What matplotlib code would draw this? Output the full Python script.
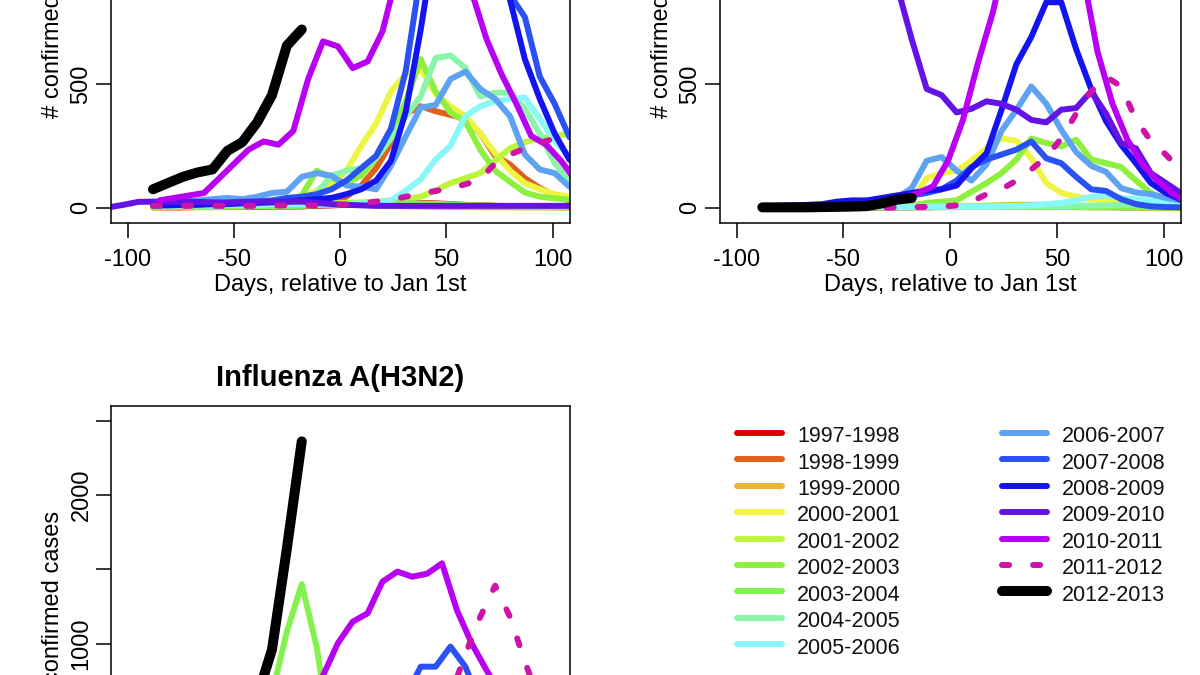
import numpy as np
import matplotlib
matplotlib.use("Agg")
import matplotlib.pyplot as plt

plt.rcParams['font.family'] = ['Liberation Sans', 'DejaVu Sans']
plt.rcParams['axes.unicode_minus'] = False

# ---------------- data ----------------
SEASONS = ["1997-1998", "1998-1999", "1999-2000", "2000-2001", "2001-2002",
           "2002-2003", "2003-2004", "2004-2005", "2005-2006", "2006-2007",
           "2007-2008", "2008-2009", "2009-2010", "2010-2011", "2011-2012",
           "2012-2013"]
COLORS = ["#DD0000", "#E0601E", "#E8B534", "#EDF542", "#BCF53C", "#8EF03E",
          "#84F24E", "#8AF5A8", "#88F8F8", "#5EA2F2", "#2A52F2", "#1414F0",
          "#6412E6", "#B800F2", "#CC14A8", "#000000"]
# weekly grid, days relative to Jan 1st
DAYS = [-116, -109, -102, -95, -88, -81, -74, -67, -60, -53, -46, -39, -32,
        -25, -18, -11, -4, 3, 10, 17, 24, 31, 38, 45, 52, 59, 66, 73, 80, 87,
        94, 101, 108]
# day offset of each season's weekly grid
SHIFT = [0, 0, 0, 0, 0, 0, 0, 0, 0, 0, 0, 0, 0, 3, 0, 0]
NA4 = [np.nan] * 4

# panel A (top left)
A_1997 = NA4 + [2,2,2,3,3,3,4,4,5,5,6,8,10,12,15,18,20,22,20,18,15,12,10,8,6,5,4,3,2]
A_1998 = NA4 + [3,3,3,4,4,5,5,6,6,8,10,15,25,45,90,160,260,380,410,390,375,360,300,210,175,120,80,50,30]
A_1999 = NA4 + [2,2,3,3,4,5,6,8,10,12,14,15,15,14,12,10,8,6,5,4,3,3,2,2,2,1,1,1,1]
A_2000 = NA4 + [8,8,9,10,10,12,14,16,20,25,40,70,100,150,250,340,470,540,560,460,410,370,300,220,150,100,75,55,45]
A_2001 = NA4 + [5,5,5,5,6,6,7,8,8,10,12,15,18,20,22,25,30,35,45,70,100,120,140,190,240,265,280,290,300]
A_2002 = NA4 + [5,5,5,5,6,8,10,12,15,20,50,150,120,100,130,200,300,430,600,470,385,348,235,150,105,62,45,38,33]
A_2003 = NA4 + [3,3,3,4,4,5,5,6,6,7,8,10,12,14,16,18,20,20,18,16,14,12,10,8,7,6,5,4,3]
A_2004 = NA4 + [10,10,10,12,12,15,15,18,20,25,30,60,130,150,160,200,280,370,450,605,615,565,450,465,465,400,300,180,110]
A_2005 = NA4 + [10,10,10,10,10,12,12,12,14,15,15,15,15,15,18,20,30,70,115,195,250,370,410,430,440,445,360,270,208]
A_2006 = NA4 + [20,20,25,30,35,40,35,45,60,65,125,140,130,90,85,75,170,290,405,415,520,550,480,440,370,215,155,140,85]
A_2007 = NA4 + [15,15,18,20,20,22,25,25,30,40,45,55,75,110,160,210,320,555,950,1200,1300,1250,1100,960,860,770,530,420,285]
A_2008 = NA4 + [10,10,12,12,15,15,18,20,22,25,30,35,40,55,75,110,190,390,720,1100,1400,1500,1300,1000,840,600,440,300,194]
A_2009 = [0, 2, 12, 24] + [25,25,25,24,22,20,22,25,25,25,25,20,15,12,10,8,8,8,8,8,8,8,8,8,8,8,8,8,8]
A_2010 = NA4 + [30,40,50,60,118,177,235,268,255,310,520,672,652,564,591,712,950,1250,1400,1400,1250,870,680,540,420,290,255,190,110]
A_2011 = NA4 + [8,8,8,8,8,8,8,8,9,10,10,10,12,14,18,25,33,45,58,68,80,95,115,180,215,240,262,280,300]
A_2012 = NA4 + [75,100,125,143,155,230,265,345,455,655,720]

# panel B (top right)
B_1997 = NA4 + [1,1,1,1,1,1,1,1,1,2,2,2,3,3,4,5,5,5,5,5,4,4,3,3,2,2,2,1,1]
B_1998 = NA4 + [1,1,1,1,1,1,1,1,2,2,3,3,4,5,6,8,10,12,12,12,10,8,6,5,4,3,2,2,1]
B_1999 = NA4 + [1,1,1,1,1,1,2,2,2,3,3,4,4,5,5,5,5,5,4,4,3,3,2,2,2,1,1,1,1]
B_2000 = NA4 + [5,5,5,5,5,5,5,5,5,15,30,120,140,150,190,240,280,270,200,100,60,45,35,30,20,15,10,8,5]
B_2001 = NA4 + [2,2,2,2,3,3,3,4,4,5,5,6,6,7,8,9,10,10,10,9,8,7,6,5,4,3,3,2,2]
B_2002 = NA4 + [5,5,5,5,5,5,5,6,6,8,10,20,25,30,65,100,140,195,280,262,248,275,195,180,165,110,60,35,20]
B_2003 = NA4 + [1,1,1,1,2,2,2,3,3,3,4,4,5,5,5,5,5,5,4,4,4,3,3,3,2,2,2,1,1]
B_2004 = NA4 + [1,1,1,1,1,1,1,2,2,2,2,3,3,3,4,4,5,5,6,6,7,8,9,10,12,14,15,15,14]
B_2005 = NA4 + [3,3,3,3,3,3,3,3,4,4,5,5,5,5,5,5,6,8,10,15,20,30,45,50,40,35,30,25,20]
B_2006 = NA4 + [5,5,6,6,8,8,10,12,15,40,80,190,205,150,110,175,310,395,490,420,315,225,170,145,80,62,55,40,30]
B_2007 = NA4 + [5,5,6,8,10,12,15,20,25,35,50,60,75,110,165,195,215,235,268,200,180,125,75,68,35,15,6,3,2]
B_2008 = NA4 + [5,8,10,12,15,25,30,30,40,50,60,70,75,90,160,220,395,580,690,830,830,640,480,350,255,180,100,60,33]
B_2009 = NA4 + [1200,2000,2800,3000,2500,2000,1500,1200,1000,900,680,480,455,385,400,430,420,396,355,345,396,403,470,380,262,240,140,100,60]
B_2010 = NA4 + [5,5,5,6,6,8,10,15,20,40,60,87,190,356,585,790,1050,1300,1450,1450,1300,950,630,420,275,175,110,60,20]
B_2011 = NA4 + [0,0,0,0,0,0,0,0,0,2,3,4,5,10,25,55,75,110,155,205,280,380,470,530,490,356,270,215,150]
B_2012 = NA4 + [2,2,2,2,3,4,5,7,18,33,40]

# panel C (bottom left, H3N2)
C_1997 = NA4 + [10,15,20,30,45,70,110,160,230,320,420,520,600,620,560,470,380,290,210,150,110,80,60,45,35,25,20,15,10]
C_1998 = NA4 + [5,5,6,8,10,12,15,20,30,45,70,110,170,260,380,500,600,640,590,480,360,260,180,120,80,55,40,30,20]
C_1999 = NA4 + [5,8,12,18,28,45,75,130,230,380,560,680,650,520,380,260,170,110,75,50,35,25,20,15,12,10,8,6,5]
C_2000 = NA4 + [2,2,3,3,4,5,6,8,10,12,15,18,22,26,30,35,40,45,50,48,44,40,35,30,25,20,15,12,10]
C_2001 = NA4 + [3,4,5,6,8,10,14,20,30,45,70,110,170,250,340,420,480,500,470,400,320,240,170,120,80,55,40,30,20]
C_2002 = NA4 + [2,2,3,3,4,5,6,8,10,14,18,24,30,38,48,60,72,85,95,100,95,85,72,60,48,38,30,22,16]
C_2003 = NA4 + [20,30,45,70,110,170,250,380,660,1080,1400,980,320,200,140,100,80,60,50,40,30,25,20,15,12,10,8,6,5]
C_2004 = NA4 + [5,6,8,10,14,20,28,40,60,90,140,210,300,400,480,530,540,500,430,350,270,200,140,100,70,50,35,25,18]
C_2005 = NA4 + [3,3,4,5,6,8,10,13,17,22,30,40,55,75,100,130,170,210,250,280,290,270,230,180,130,90,60,40,25]
C_2006 = NA4 + [3,4,5,7,10,14,20,30,45,70,110,160,230,310,400,470,520,530,500,440,360,280,200,140,95,60,40,28,20]
C_2007 = NA4 + [5,6,8,10,12,15,20,25,35,50,70,100,150,220,300,400,500,650,845,845,980,845,600,400,260,160,100,60,40]
C_2008 = NA4 + [2,2,3,3,4,5,6,8,10,12,15,18,22,28,35,42,50,58,65,70,68,60,50,40,30,22,15,10,8]
C_2009 = NA4 + [10,8,6,5,4,3,3,3,3,3,3,3,4,4,5,5,6,6,7,7,7,6,6,5,5,4,4,3,3]
C_2010 = NA4 + [20,25,30,40,50,70,100,150,250,380,550,785,1003,1148,1204,1417,1484,1450,1470,1540,1226,1000,820,650,500,380,280,200,150]
C_2011 = NA4 + [3,3,4,5,6,8,10,12,15,20,25,35,50,70,95,130,180,250,340,460,650,930,1180,1390,1180,880,600,400,280]
C_2012 = NA4 + [50,60,80,110,150,220,400,640,960,1640,2360]

PANEL_A = [A_1997, A_1998, A_1999, A_2000, A_2001, A_2002, A_2003, A_2004,
           A_2005, A_2006, A_2007, A_2008, A_2009, A_2010, A_2011, A_2012]
PANEL_B = [B_1997, B_1998, B_1999, B_2000, B_2001, B_2002, B_2003, B_2004,
           B_2005, B_2006, B_2007, B_2008, B_2009, B_2010, B_2011, B_2012]
PANEL_C = [C_1997, C_1998, C_1999, C_2000, C_2001, C_2002, C_2003, C_2004,
           C_2005, C_2006, C_2007, C_2008, C_2009, C_2010, C_2011, C_2012]

XTICKS = [-100, -50, 0, 50, 100]
XTICKLABELS = ["-100", "-50", "0", "50", "100"]
YTICKS_TOP = [0, 500, 1000, 1500]
YTICKLABELS_TOP = ["0", "500", "1000", "1500"]
YTICKS_C = [0, 500, 1000, 1500, 2000, 2500]
YTICKLABELS_C = ["0", "", "1000", "", "2000", ""]

# ---------------- figure ----------------
W, H = 1200, 675
fig = plt.figure(figsize=(W / 100, H / 100), dpi=100)

# overlay (pixel coordinates) for the legend
lax = fig.add_axes([0, 0, 1, 1])
lax.set_xlim(0, W)
lax.set_ylim(H, 0)
lax.axis('off')


def add_ax(x0, x1, ytop, ybot):
    return fig.add_axes([x0 / W, 1 - ybot / H, (x1 - x0) / W, (ybot - ytop) / H])


def style_line(i):
    if i == 15:
        return dict(lw=7.2, ls='-')
    if i == 14:
        return dict(lw=4.3, ls=(0, (1.2, 4.0)))
    return dict(lw=4.3, ls='-')


def draw_panel(ax, series, ymax, yticks, ylabels):
    for i, vals in enumerate(series):
        x = [d + SHIFT[i] for d in DAYS[:len(vals)]]
        st = style_line(i)
        ax.plot(x, vals, color=COLORS[i], lw=st['lw'], ls=st['ls'],
                solid_capstyle='round', dash_capstyle='round',
                solid_joinstyle='round', dash_joinstyle='round')
    ax.set_xlim(-108, 108)
    ax.set_ylim(-0.04 * ymax, 1.04 * ymax)
    ax.set_xticks(XTICKS)
    ax.set_xticklabels(XTICKLABELS)
    ax.set_yticks(yticks)
    ax.set_yticklabels(ylabels, rotation=90, va='center')
    ax.tick_params(axis='both', direction='out', length=10.5, width=1.1,
                   labelsize=17, color='black')
    ax.tick_params(axis='x', pad=8.5)
    ax.tick_params(axis='y', pad=2.5)
    for sp in ax.spines.values():
        sp.set_linewidth(1.1)
        sp.set_color('black')
    ax.set_xlabel("Days, relative to Jan 1st", fontsize=17)
    ax.set_ylabel("# confirmed cases", fontsize=17)
    ax.xaxis.label.set_va('center')
    ax.yaxis.label.set_va('center')


axA = add_ax(110.5, 569.5, -178.6, 222.7)
axB = add_ax(719.6, 1180.8, -178.6, 222.7)
axC = add_ax(110.5, 569.5, 405.7, 807.2)

draw_panel(axA, PANEL_A, 1500, YTICKS_TOP, YTICKLABELS_TOP)
draw_panel(axB, PANEL_B, 1500, YTICKS_TOP, YTICKLABELS_TOP)
draw_panel(axC, PANEL_C, 2500, YTICKS_C, YTICKLABELS_C)

for ax in (axA, axB):
    ax.xaxis.set_label_coords(0.5, -(285 - 222.7) / 401.3)
    ax.yaxis.set_label_coords(-(110.5 - 53) / 459, 0.5)
axC.xaxis.set_label_coords(0.5, -(285 - 222.7) / 401.5)
axC.yaxis.set_label_coords(-(110.5 - 53) / 459, 0.5)

axC.text(0.5, 1 + (405.7 - 386) / 401.5, "Influenza A(H3N2)",
         transform=axC.transAxes, ha='center', va='baseline',
         fontsize=21, fontweight='bold')

# legend
ROW0, DY = 432.7, 26.45
COLS = [(737, 782, 797, range(0, 9)), (1002, 1047, 1062, range(9, 16))]
for x0, x1, xt, idxs in COLS:
    for r, i in enumerate(idxs):
        y = ROW0 + r * DY
        st = style_line(i)
        lax.plot([x0, x1], [y, y], color=COLORS[i], lw=st['lw'], ls=st['ls'],
                 solid_capstyle='round', dash_capstyle='round')
        lax.text(xt, y + 9.4, SEASONS[i], fontsize=15.5, ha='left',
                 va='baseline', color='#111111')

fig.savefig("out.png", dpi=100)
